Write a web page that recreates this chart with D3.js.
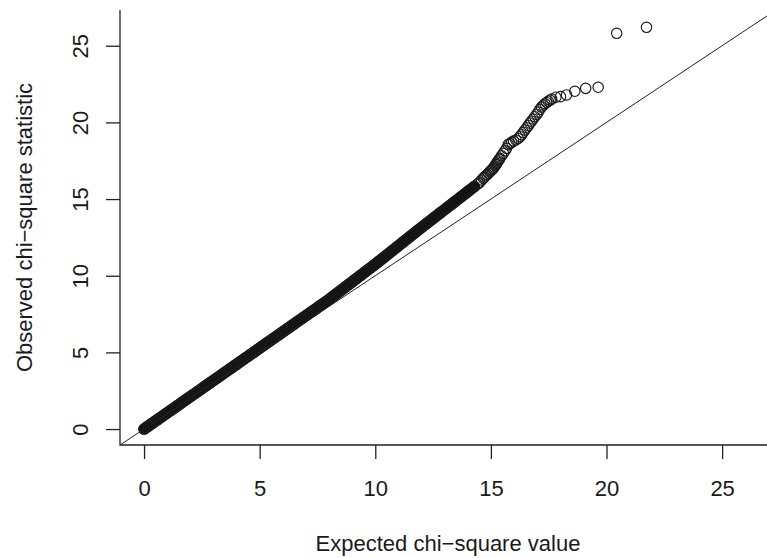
<!DOCTYPE html>
<html>
<head>
<meta charset="utf-8">
<script src="https://cdn.jsdelivr.net/npm/d3@7"></script>
<style>
  html, body { margin: 0; padding: 0; background: #fff; }
  svg { display: block; }
  text { font-family: "Liberation Sans", Arial, Helvetica, sans-serif; fill: #1a1a1a; }
</style>
</head>
<body>
<svg id="chart" width="767" height="558"></svg>
<script>
// ---- data ----
const expected = [
  0.0,0.1,0.2,0.3,0.4,0.5,0.6,0.7,0.8,0.9,
  1.0,1.1,1.2,1.3,1.4,1.5,1.6,1.7,1.8,1.9,
  2.0,2.1,2.2,2.3,2.4,2.5,2.6,2.7,2.8,2.9,
  3.0,3.1,3.2,3.3,3.4,3.5,3.6,3.7,3.8,3.9,
  4.0,4.1,4.2,4.3,4.4,4.5,4.6,4.7,4.8,4.9,
  5.0,5.1,5.2,5.3,5.4,5.5,5.6,5.7,5.8,5.9,
  6.0,6.1,6.2,6.3,6.4,6.5,6.6,6.7,6.8,6.9,
  7.0,7.1,7.2,7.3,7.4,7.5,7.6,7.7,7.8,7.9,
  8.0,8.1,8.2,8.3,8.4,8.5,8.6,8.7,8.8,8.9,
  9.0,9.1,9.2,9.3,9.4,9.5,9.6,9.7,9.8,9.9,
  10.0,10.1,10.2,10.3,10.4,10.5,10.6,10.7,10.8,10.9,
  11.0,11.1,11.2,11.3,11.4,11.5,11.6,11.7,11.8,11.9,
  12.0,12.12,12.24,12.36,12.48,12.6,12.72,12.84,12.96,13.08,
  13.2,13.32,13.44,13.56,13.68,13.8,13.92,14.04,14.16,14.28,
  14.4,14.46,14.52,14.6,14.67,14.72,14.78,14.84,14.89,14.95,
  15.0,15.05,15.1,15.14,15.18,15.21,15.25,15.28,15.32,15.36,
  15.39,15.46,15.54,15.61,15.68,15.75,15.82,15.9,15.98,16.08,
  16.18,16.26,16.33,16.4,16.47,16.55,16.62,16.69,16.76,16.83,
  16.9,16.98,17.05,17.12,17.19,17.27,17.34,17.41,17.48,17.56,
  17.63,17.81,18.01,18.27,18.63,19.1,19.64,20.44,21.73
];
const observed = [
  0.00,0.11,0.21,0.32,0.42,0.53,0.63,0.74,0.84,0.95,
  1.06,1.16,1.27,1.37,1.48,1.58,1.69,1.80,1.90,2.01,
  2.11,2.22,2.32,2.43,2.53,2.64,2.75,2.85,2.96,3.06,
  3.17,3.27,3.38,3.48,3.59,3.70,3.80,3.91,4.01,4.12,
  4.22,4.33,4.44,4.54,4.65,4.75,4.86,4.96,5.07,5.17,
  5.28,5.39,5.49,5.60,5.70,5.81,5.91,6.02,6.12,6.23,
  6.34,6.44,6.55,6.65,6.76,6.86,6.97,7.08,7.18,7.29,
  7.39,7.50,7.60,7.71,7.81,7.92,8.03,8.13,8.24,8.34,
  8.45,8.57,8.68,8.80,8.91,9.03,9.14,9.26,9.37,9.49,
  9.60,9.72,9.83,9.95,10.06,10.18,10.29,10.41,10.52,10.64,
  10.75,10.87,10.99,11.11,11.23,11.35,11.47,11.59,11.71,11.83,
  11.95,12.07,12.19,12.31,12.43,12.55,12.67,12.79,12.91,13.03,
  13.15,13.29,13.43,13.57,13.71,13.85,13.99,14.13,14.27,14.41,
  14.55,14.69,14.83,14.97,15.11,15.25,15.39,15.53,15.67,15.81,
  15.95,16.02,16.10,16.24,16.35,16.43,16.52,16.60,16.68,16.77,
  16.85,16.92,17.00,17.08,17.17,17.25,17.33,17.41,17.50,17.58,
  17.66,17.82,17.98,18.15,18.31,18.55,18.62,18.70,18.78,18.85,
  18.95,19.07,19.20,19.35,19.50,19.65,19.80,19.95,20.08,20.22,
  20.37,20.52,20.67,20.85,21.00,21.12,21.22,21.30,21.38,21.45,
  21.52,21.64,21.68,21.79,22.03,22.22,22.29,25.81,26.20
];
const xTicks = [0, 5, 10, 15, 20, 25];
const yTicks = [0, 5, 10, 15, 20, 25];
const xTitle = "Expected chi\u2212square value";
const yTitle = "Observed chi\u2212square statistic";
const domain = [-1.04, 27.33];
// points up to this expected value are so densely overplotted that they merge into a solid band
const solidUpTo = 14.3;

// ---- layout ----
const svg = d3.select("#chart");
const plot = { left: 120, right: 776, top: 10, bottom: 445 };
const R = 5.2, SW = 1.15;

const x = d3.scaleLinear().domain(domain).range([plot.left, plot.right]);
const y = d3.scaleLinear().domain(domain).range([plot.bottom, plot.top]);

svg.append("defs").append("clipPath").attr("id", "clip")
  .append("rect")
  .attr("x", plot.left).attr("y", plot.top)
  .attr("width", plot.right - plot.left).attr("height", plot.bottom - plot.top);

const data = expected.map((e, i) => [e, observed[i]]);
const pts = svg.append("g").attr("clip-path", "url(#clip)");

// overplotted (solid) part of the point cloud
pts.append("path")
  .datum(data.filter(d => d[0] <= solidUpTo))
  .attr("d", d3.line().x(d => x(d[0])).y(d => y(d[1])))
  .attr("fill", "none")
  .attr("stroke", "#0d0d0d")
  .attr("stroke-width", 2 * R + SW)
  .attr("stroke-linecap", "round")
  .attr("stroke-linejoin", "round");

// open circles
pts.selectAll("circle")
  .data(data)
  .join("circle")
  .attr("cx", d => x(d[0]))
  .attr("cy", d => y(d[1]))
  .attr("r", R)
  .attr("fill", "none")
  .attr("stroke", "#1a1a1a")
  .attr("stroke-width", SW);

// reference line y = x
pts.append("line")
  .attr("x1", x(domain[0])).attr("y1", y(domain[0]))
  .attr("x2", x(domain[1])).attr("y2", y(domain[1]))
  .attr("stroke", "#222")
  .attr("stroke-width", 1);

// axes
const xAxis = d3.axisBottom(x).tickValues(xTicks).tickSize(14).tickSizeOuter(0);
const yAxis = d3.axisLeft(y).tickValues(yTicks).tickSize(14).tickSizeOuter(0);

const gx = svg.append("g").attr("transform", `translate(0,${plot.bottom})`).call(xAxis);
gx.select(".domain").remove();
gx.selectAll(".tick line").attr("stroke", "#222").attr("stroke-width", 1.3);
gx.selectAll(".tick text")
  .attr("font-size", 22).attr("fill", "#1a1a1a")
  .attr("dy", null).attr("y", 50.5);

const gy = svg.append("g").attr("transform", `translate(${plot.left},0)`).call(yAxis);
gy.select(".domain").remove();
gy.selectAll(".tick line").attr("stroke", "#222").attr("stroke-width", 1.3);
gy.selectAll(".tick text")
  .attr("font-size", 22).attr("fill", "#1a1a1a")
  .attr("x", null).attr("dy", null)
  .attr("text-anchor", "middle")
  .attr("transform", "translate(-32.5,0) rotate(-90)");

// L-shaped box (left and bottom)
svg.append("path")
  .attr("d", `M${plot.left},${plot.top}V${plot.bottom}H${plot.right}`)
  .attr("fill", "none").attr("stroke", "#222").attr("stroke-width", 1.3);

// titles
svg.append("text")
  .attr("x", (plot.left + plot.right) / 2).attr("y", 551)
  .attr("text-anchor", "middle").attr("font-size", 22)
  .text(xTitle);
svg.append("text")
  .attr("transform", `translate(31.5,${(plot.top + plot.bottom) / 2}) rotate(-90)`)
  .attr("text-anchor", "middle").attr("font-size", 22)
  .text(yTitle);
</script>
</body>
</html>
